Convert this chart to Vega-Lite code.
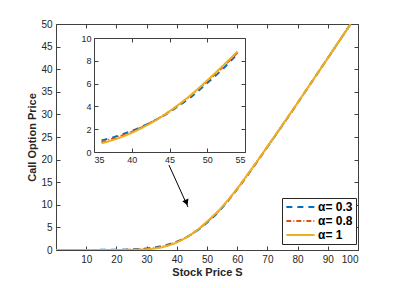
{
  "$schema": "https://vega.github.io/schema/vega-lite/v6.json",
  "width": 302,
  "height": 226,
  "autosize": "none",
  "padding": {"left": 56, "top": 24, "right": 43, "bottom": 38},
  "background": "white",
  "config": {
    "view": {"stroke": "#404040", "strokeWidth": 1},
    "font": "Liberation Sans",
    "axis": {
      "domainColor": "#404040",
      "tickColor": "#404040",
      "labelColor": "#262626",
      "titleColor": "#262626",
      "labelFont": "Liberation Sans",
      "titleFont": "Liberation Sans",
      "labelFontSize": 10,
      "titleFontSize": 11,
      "titleFontWeight": "bold",
      "grid": false,
      "tickSize": -4,
      "labelPadding": 8
    },
    "legend": {
      "labelFont": "Liberation Sans",
      "labelFontSize": 12,
      "labelFontWeight": "bold",
      "labelColor": "#000000"
    }
  },
  "datasets": {
    "curves": [
      {"S": 0, "price": 0, "series": "α= 0.3"},
      {"S": 5, "price": 0, "series": "α= 0.3"},
      {"S": 10, "price": 0.01, "series": "α= 0.3"},
      {"S": 15, "price": 0.03, "series": "α= 0.3"},
      {"S": 20, "price": 0.06, "series": "α= 0.3"},
      {"S": 25, "price": 0.14, "series": "α= 0.3"},
      {"S": 28, "price": 0.25, "series": "α= 0.3"},
      {"S": 30, "price": 0.35, "series": "α= 0.3"},
      {"S": 32, "price": 0.5, "series": "α= 0.3"},
      {"S": 34, "price": 0.72, "series": "α= 0.3"},
      {"S": 36, "price": 1.02, "series": "α= 0.3"},
      {"S": 38, "price": 1.38, "series": "α= 0.3"},
      {"S": 40, "price": 1.85, "series": "α= 0.3"},
      {"S": 42, "price": 2.42, "series": "α= 0.3"},
      {"S": 44, "price": 3.1, "series": "α= 0.3"},
      {"S": 46, "price": 3.95, "series": "α= 0.3"},
      {"S": 48, "price": 4.9, "series": "α= 0.3"},
      {"S": 50, "price": 6.05, "series": "α= 0.3"},
      {"S": 52, "price": 7.25, "series": "α= 0.3"},
      {"S": 54, "price": 8.6, "series": "α= 0.3"},
      {"S": 56, "price": 10.1, "series": "α= 0.3"},
      {"S": 58, "price": 11.75, "series": "α= 0.3"},
      {"S": 60, "price": 13.45, "series": "α= 0.3"},
      {"S": 65, "price": 18.0, "series": "α= 0.3"},
      {"S": 70, "price": 22.8, "series": "α= 0.3"},
      {"S": 75, "price": 27.6, "series": "α= 0.3"},
      {"S": 80, "price": 32.5, "series": "α= 0.3"},
      {"S": 85, "price": 37.5, "series": "α= 0.3"},
      {"S": 90, "price": 42.45, "series": "α= 0.3"},
      {"S": 95, "price": 47.45, "series": "α= 0.3"},
      {"S": 97.5, "price": 49.95, "series": "α= 0.3"},
      {"S": 0, "price": 0, "series": "α= 0.8"},
      {"S": 5, "price": 0, "series": "α= 0.8"},
      {"S": 10, "price": 0, "series": "α= 0.8"},
      {"S": 15, "price": 0.01, "series": "α= 0.8"},
      {"S": 20, "price": 0.02, "series": "α= 0.8"},
      {"S": 25, "price": 0.06, "series": "α= 0.8"},
      {"S": 28, "price": 0.13, "series": "α= 0.8"},
      {"S": 30, "price": 0.22, "series": "α= 0.8"},
      {"S": 32, "price": 0.36, "series": "α= 0.8"},
      {"S": 34, "price": 0.57, "series": "α= 0.8"},
      {"S": 36, "price": 0.88, "series": "α= 0.8"},
      {"S": 38, "price": 1.27, "series": "α= 0.8"},
      {"S": 40, "price": 1.77, "series": "α= 0.8"},
      {"S": 42, "price": 2.4, "series": "α= 0.8"},
      {"S": 44, "price": 3.13, "series": "α= 0.8"},
      {"S": 46, "price": 4.02, "series": "α= 0.8"},
      {"S": 48, "price": 5.05, "series": "α= 0.8"},
      {"S": 50, "price": 6.2, "series": "α= 0.8"},
      {"S": 52, "price": 7.42, "series": "α= 0.8"},
      {"S": 54, "price": 8.72, "series": "α= 0.8"},
      {"S": 56, "price": 10.22, "series": "α= 0.8"},
      {"S": 58, "price": 11.85, "series": "α= 0.8"},
      {"S": 60, "price": 13.55, "series": "α= 0.8"},
      {"S": 65, "price": 18.1, "series": "α= 0.8"},
      {"S": 70, "price": 22.85, "series": "α= 0.8"},
      {"S": 75, "price": 27.67, "series": "α= 0.8"},
      {"S": 80, "price": 32.55, "series": "α= 0.8"},
      {"S": 85, "price": 37.5, "series": "α= 0.8"},
      {"S": 90, "price": 42.47, "series": "α= 0.8"},
      {"S": 95, "price": 47.45, "series": "α= 0.8"},
      {"S": 97.5, "price": 49.95, "series": "α= 0.8"},
      {"S": 0, "price": 0, "series": "α= 1"},
      {"S": 5, "price": 0, "series": "α= 1"},
      {"S": 10, "price": 0, "series": "α= 1"},
      {"S": 15, "price": 0, "series": "α= 1"},
      {"S": 20, "price": 0, "series": "α= 1"},
      {"S": 25, "price": 0.02, "series": "α= 1"},
      {"S": 28, "price": 0.07, "series": "α= 1"},
      {"S": 30, "price": 0.15, "series": "α= 1"},
      {"S": 32, "price": 0.28, "series": "α= 1"},
      {"S": 34, "price": 0.48, "series": "α= 1"},
      {"S": 36, "price": 0.76, "series": "α= 1"},
      {"S": 38, "price": 1.16, "series": "α= 1"},
      {"S": 40, "price": 1.68, "series": "α= 1"},
      {"S": 42, "price": 2.34, "series": "α= 1"},
      {"S": 44, "price": 3.12, "series": "α= 1"},
      {"S": 46, "price": 4.05, "series": "α= 1"},
      {"S": 48, "price": 5.1, "series": "α= 1"},
      {"S": 50, "price": 6.28, "series": "α= 1"},
      {"S": 52, "price": 7.52, "series": "α= 1"},
      {"S": 54, "price": 8.82, "series": "α= 1"},
      {"S": 56, "price": 10.3, "series": "α= 1"},
      {"S": 58, "price": 11.9, "series": "α= 1"},
      {"S": 60, "price": 13.6, "series": "α= 1"},
      {"S": 65, "price": 18.15, "series": "α= 1"},
      {"S": 70, "price": 22.88, "series": "α= 1"},
      {"S": 75, "price": 27.69, "series": "α= 1"},
      {"S": 80, "price": 32.57, "series": "α= 1"},
      {"S": 85, "price": 37.51, "series": "α= 1"},
      {"S": 90, "price": 42.48, "series": "α= 1"},
      {"S": 95, "price": 47.46, "series": "α= 1"},
      {"S": 97.5, "price": 49.96, "series": "α= 1"}
    ],
    "arrow": [{"S": 37.4, "price": 18.8, "S2": 43.7, "price2": 9.5}],
    "arrowhead": [{"S": 43.2, "price": 10.5}]
  },
  "layer": [
    {
      "data": {"name": "curves"},
      "mark": {"type": "line", "strokeWidth": 2, "interpolate": "monotone", "clip": true},
      "encoding": {
        "x": {
          "field": "S", "type": "quantitative",
          "scale": {"domain": [0, 100], "nice": false, "zero": false},
          "axis": {"values": [10, 20, 30, 40, 50, 60, 70, 80, 90, 100], "title": "Stock Price S", "titlePadding": 2}
        },
        "y": {
          "field": "price", "type": "quantitative",
          "scale": {"domain": [0, 50], "nice": false},
          "axis": {"values": [0, 5, 10, 15, 20, 25, 30, 35, 40, 45, 50], "title": "Call Option Price", "titlePadding": 3}
        },
        "color": {
          "field": "series", "type": "nominal",
          "scale": {"domain": ["α= 0.3", "α= 0.8", "α= 1"], "range": ["#0072BD", "#D95319", "#EDB120"]},
          "legend": {
            "title": null, "orient": "none", "legendX": 226, "legendY": 174,
            "direction": "vertical",
            "strokeColor": "#262626", "fillColor": "white", "padding": 3,
            "symbolType": "stroke", "symbolSize": 800, "symbolStrokeWidth": 2,
            "clipHeight": 12, "rowPadding": 2, "labelOffset": 2
          }
        },
        "strokeDash": {
          "field": "series", "type": "nominal",
          "scale": {"domain": ["α= 0.3", "α= 0.8", "α= 1"], "range": [[6, 5], [5, 2, 1, 2], [1, 0]]},
          "legend": {
            "title": null, "orient": "none", "legendX": 226, "legendY": 174,
            "direction": "vertical",
            "strokeColor": "#262626", "fillColor": "white", "padding": 3,
            "symbolType": "stroke", "symbolSize": 800, "symbolStrokeWidth": 2,
            "clipHeight": 12, "rowPadding": 2, "labelOffset": 2
          }
        }
      }
    },
    {
      "data": {"name": "curves"},
      "mark": {"type": "point", "opacity": 0},
      "encoding": {
        "x": {
          "field": "S", "type": "quantitative",
          "scale": {"domain": [0, 100], "nice": false, "zero": false},
          "axis": {"orient": "top", "values": [10, 20, 30, 40, 50, 60, 70, 80, 90, 100], "labels": false, "title": null, "domain": false}
        },
        "y": {
          "field": "price", "type": "quantitative",
          "scale": {"domain": [0, 50], "nice": false},
          "axis": {"orient": "right", "values": [0, 5, 10, 15, 20, 25, 30, 35, 40, 45, 50], "labels": false, "title": null, "domain": false}
        }
      }
    },
    {
      "data": {"name": "arrow"},
      "mark": {"type": "rule", "color": "#000000", "strokeWidth": 1},
      "encoding": {
        "x": {"field": "S", "type": "quantitative", "scale": {"domain": [0, 100], "nice": false, "zero": false}, "axis": null},
        "y": {"field": "price", "type": "quantitative", "scale": {"domain": [0, 50], "nice": false}, "axis": null},
        "x2": {"field": "S2"},
        "y2": {"field": "price2"}
      }
    },
    {
      "data": {"name": "arrowhead"},
      "mark": {"type": "point", "shape": "triangle-down", "filled": true, "color": "#000000", "size": 45, "angle": 337, "opacity": 1},
      "encoding": {
        "x": {"field": "S", "type": "quantitative", "scale": {"domain": [0, 100], "nice": false, "zero": false}, "axis": null},
        "y": {"field": "price", "type": "quantitative", "scale": {"domain": [0, 50], "nice": false}, "axis": null}
      }
    },
    {
      "data": {"name": "curves"},
      "transform": [{"filter": "datum.S >= 36 && datum.S <= 54"}],
      "mark": {"type": "line", "strokeWidth": 2, "interpolate": "monotone"},
      "encoding": {
        "x": {
          "field": "S", "type": "quantitative",
          "scale": {"domain": [35, 55], "nice": false, "zero": false, "range": [38, 189]},
          "axis": {"values": [35, 40, 45, 50, 55], "title": null, "offset": -98, "labelFontSize": 9, "labelPadding": 7}
        },
        "y": {
          "field": "price", "type": "quantitative",
          "scale": {"domain": [0, 10], "nice": false, "range": [128, 14]},
          "axis": {"values": [0, 2, 4, 6, 8, 10], "title": null, "offset": -38, "labelFontSize": 9, "labelPadding": 7}
        },
        "color": {"field": "series", "type": "nominal", "legend": null},
        "strokeDash": {"field": "series", "type": "nominal", "legend": null}
      }
    },
    {
      "data": {"name": "curves"},
      "transform": [{"filter": "datum.S >= 36 && datum.S <= 54"}],
      "mark": {"type": "point", "opacity": 0},
      "encoding": {
        "x": {
          "field": "S", "type": "quantitative",
          "scale": {"domain": [35, 55], "nice": false, "zero": false, "range": [38, 189]},
          "axis": {"orient": "top", "values": [35, 40, 45, 50, 55], "labels": false, "title": null, "offset": -14}
        },
        "y": {
          "field": "price", "type": "quantitative",
          "scale": {"domain": [0, 10], "nice": false, "range": [128, 14]},
          "axis": {"orient": "right", "values": [0, 2, 4, 6, 8, 10], "labels": false, "title": null, "offset": -113}
        }
      }
    }
  ],
  "resolve": {
    "scale": {"x": "independent", "y": "independent"},
    "axis": {"x": "independent", "y": "independent"}
  }
}
